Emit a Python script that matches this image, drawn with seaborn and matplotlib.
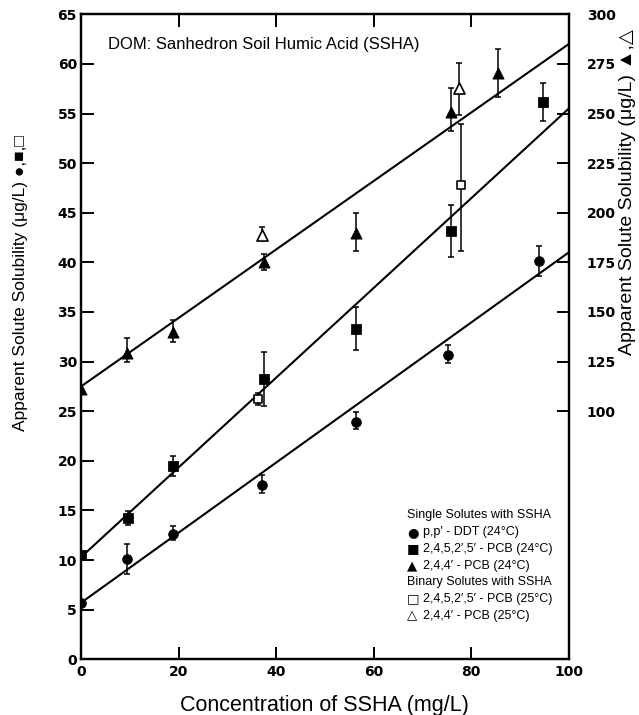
import numpy as np
import matplotlib
matplotlib.use("Agg")
import matplotlib.pyplot as plt
import seaborn as sns

# ---- data ----
# p,p'-DDT (24C), left axis
ddt_x = [0, 9.4, 18.9, 37.0, 56.3, 75.2, 94.0]
ddt_y = [5.7, 10.1, 12.6, 17.6, 23.9, 30.7, 40.1]
ddt_lo = [0.3, 1.5, 0.6, 0.8, 0.7, 0.8, 1.5]
ddt_hi = [0.3, 1.5, 0.8, 1.0, 1.0, 1.0, 1.5]

# 2,4,5,2',5'-PCB (24C), left axis
pcb5_x = [0, 9.6, 18.9, 37.6, 56.3, 75.8, 94.7]
pcb5_y = [10.5, 14.2, 19.5, 28.2, 33.3, 43.2, 56.2]
pcb5_lo = [0.3, 0.7, 1.0, 2.7, 2.1, 2.7, 2.0]
pcb5_hi = [0.3, 0.7, 1.0, 2.8, 2.2, 2.6, 1.9]

# 2,4,5,2',5'-PCB binary (25C), left axis
pcb5b_x = [36.3, 78.0]
pcb5b_y = [26.2, 47.8]
pcb5b_lo = [0.6, 6.7]
pcb5b_hi = [0.6, 6.1]

# 2,4,4'-PCB (24C), right axis
pcb3_x = [0, 9.4, 18.9, 37.6, 56.3, 75.8, 85.4]
pcb3_y = [111, 129.5, 140, 175, 190, 251, 270.5]
pcb3_lo = [2, 4.5, 5, 4, 9.5, 10, 12]
pcb3_hi = [2, 7.5, 6, 4, 10, 12, 12]

# 2,4,4'-PCB binary (25C), right axis
pcb3b_x = [37.0, 77.4]
pcb3b_y = [189, 263]
pcb3b_lo = [2.5, 13.5]
pcb3b_hi = [4, 12.5]

# fitted lines (end points)
fit_x = [0, 100]
fit_ddt = [5.7, 41.0]
fit_pcb5 = [10.3, 55.5]
fit_pcb3 = [112.5, 285]

legend_marks = ['', '\u25cf', '\u25a0', '\u25b2', '', '\u25a1', '\u25b3']
legend_texts = [
    'Single Solutes with SSHA',
    'p,p\u2032 - DDT (24\u00b0C)',
    '2,4,5,2\u2032,5\u2032 - PCB (24\u00b0C)',
    '2,4,4\u2032 - PCB (24\u00b0C)',
    'Binary Solutes with SSHA',
    '2,4,5,2\u2032,5\u2032 - PCB (25\u00b0C)',
    '2,4,4\u2032 - PCB (25\u00b0C)',
]

# ---- plot ----
sns.set_style("ticks")
fam = ['Liberation Sans', 'DejaVu Sans']
plt.rcParams['font.family'] = fam
plt.rcParams.update({'text.color': 'black', 'axes.labelcolor': 'black',
                     'xtick.color': 'black', 'ytick.color': 'black'})

fig = plt.figure(figsize=(6.39, 7.15), dpi=100)
ax = fig.add_axes([0.127, 0.078, 0.763, 0.902])
ax2 = ax.twinx()

ms = 7
ekw = dict(fmt='none', ecolor='black', elinewidth=1.1, capsize=2.5, capthick=1.1)

ax.errorbar(ddt_x, ddt_y, yerr=[ddt_lo, ddt_hi], **ekw)
ax.errorbar(pcb5_x, pcb5_y, yerr=[pcb5_lo, pcb5_hi], **ekw)
ax.errorbar(pcb5b_x, pcb5b_y, yerr=[pcb5b_lo, pcb5b_hi], **ekw)
ax2.errorbar(pcb3_x, pcb3_y, yerr=[pcb3_lo, pcb3_hi], **ekw)
ax2.errorbar(pcb3b_x, pcb3b_y, yerr=[pcb3b_lo, pcb3b_hi], **ekw)

sns.lineplot(x=fit_x, y=fit_ddt, ax=ax, color='black', lw=1.5)
sns.lineplot(x=fit_x, y=fit_pcb5, ax=ax, color='black', lw=1.5)
sns.lineplot(x=fit_x, y=fit_pcb3, ax=ax2, color='black', lw=1.5)

sns.scatterplot(x=ddt_x, y=ddt_y, ax=ax, marker='o', s=ms**2, color='black', edgecolor='black', zorder=5)
sns.scatterplot(x=pcb5_x, y=pcb5_y, ax=ax, marker='s', s=ms**2, color='black', edgecolor='black', zorder=5)
sns.scatterplot(x=pcb5b_x, y=pcb5b_y, ax=ax, marker='s', s=(ms-1)**2, color='white', edgecolor='black', linewidth=1.2, zorder=5)
sns.scatterplot(x=pcb3_x, y=pcb3_y, ax=ax2, marker='^', s=(ms+1)**2, color='black', edgecolor='black', zorder=5)
sns.scatterplot(x=pcb3b_x, y=pcb3b_y, ax=ax2, marker='^', s=(ms+1)**2, color='white', edgecolor='black', linewidth=1.2, zorder=5)

ax.set_xlim(0, 100)
ax.set_ylim(0, 65)
ax2.set_ylim(-25, 300)
ax.set_xticks(range(0, 101, 20))
ax.set_yticks(range(0, 66, 5))
ax2.set_yticks(range(100, 301, 25))

for a in (ax, ax2):
    for sp in a.spines.values():
        sp.set_visible(True)
        sp.set_linewidth(1.6)
        sp.set_color('black')
ax.tick_params(axis='both', direction='in', length=9, width=1.4, labelsize=10,
               top=True, labeltop=False)
ax.tick_params(axis='x', pad=4)
ax.tick_params(axis='y', pad=3)
ax2.tick_params(axis='y', direction='in', length=9, width=1.4, labelsize=10, pad=13)
for lab in ax.get_xticklabels() + ax.get_yticklabels() + ax2.get_yticklabels():
    lab.set_fontweight('bold')
    lab.set_family('DejaVu Sans')

ax.set_xlabel('Concentration of SSHA (mg/L)', fontsize=15.5, labelpad=12)
ax.set_ylabel('Apparent Solute Solubility (\u03bcg/L) \u25cf,\u25a0,\u25a1', fontsize=12.5,
              va='center')
ax.yaxis.set_label_coords(-0.125, 0.584)
ax2.set_ylabel('Apparent Solute Solubility (\u03bcg/L) \u25b2,\u25b3', fontsize=14,
               rotation=90, va='center')
ax2.yaxis.set_label_coords(1.121, 0.724)

ax.text(5.5, 62, 'DOM: Sanhedron Soil Humic Acid (SSHA)', fontsize=12, va='center')

y0 = 0.223
for i, (mk, txt) in enumerate(zip(legend_marks, legend_texts)):
    yy = y0 - i * 0.0259
    if mk:
        ax.text(0.668, yy, mk, transform=ax.transAxes, fontsize=9.5,
                va='center', ha='left', family='DejaVu Sans')
        ax.text(0.702, yy, txt, transform=ax.transAxes, fontsize=9,
                va='center', ha='left')
    else:
        ax.text(0.668, yy, txt, transform=ax.transAxes, fontsize=9,
                va='center', ha='left')

fig.savefig('out.png', dpi=100)
